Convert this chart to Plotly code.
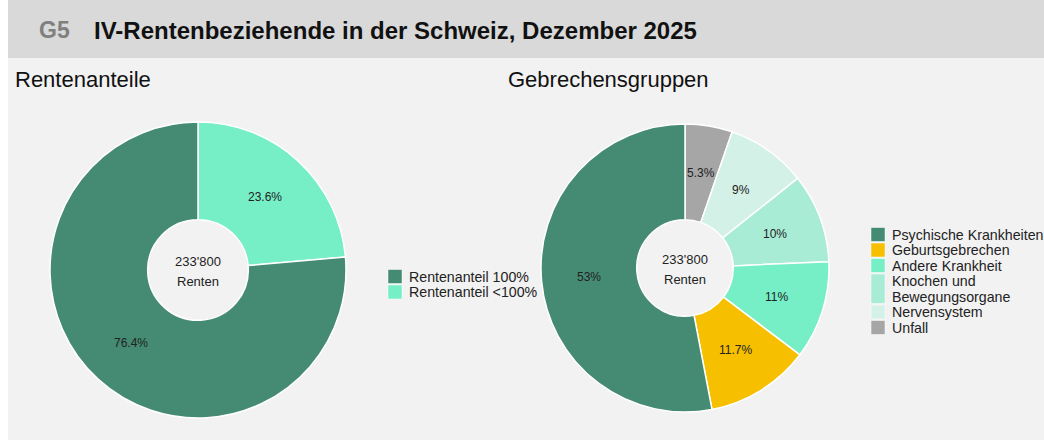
import math
import plotly.graph_objects as go

# Data
title_code = "G5"
title_text = "IV-Rentenbeziehende in der Schweiz, Dezember 2025"
left_title = "Rentenanteile"
right_title = "Gebrechensgruppen"
center_value = "233'800"
center_unit = "Renten"

rent_labels = ["Rentenanteil 100%", "Rentenanteil <100%"]
rent_values = [76.4, 23.6]
rent_colors = ["#458b73", "#76eec6"]

geb_labels = ["Psychische Krankheiten", "Geburtsgebrechen", "Andere Krankheit",
              "Knochen und<br>Bewegungsorgane", "Nervensystem", "Unfall"]
geb_values = [53, 11.7, 11, 10, 9, 5.3]
geb_colors = ["#458b73", "#f6bf00", "#76eec6", "#a9ecd6", "#d3f1e6", "#a6a6a6"]

W, H = 1044, 447
FONT = "Liberation Sans, Arial, sans-serif"

# pie geometry (pixels): centre x, centre y, radius, hole fraction
LEFT = dict(cx=198, cy=270, r=148, hole=0.34)
RIGHT = dict(cx=685, cy=268, r=144, hole=0.335)

fig = go.Figure()
shapes = [
    dict(type="rect", xref="paper", yref="paper", x0=8/W, x1=1, y0=1-58/H, y1=1,
         fillcolor="#d9d9d9", line=dict(width=0), layer="below"),
    dict(type="rect", xref="paper", yref="paper", x0=8/W, x1=1, y0=1-440/H, y1=1-58/H,
         fillcolor="#f2f2f2", line=dict(width=0), layer="below"),
]
annotations = [
    dict(x=37/W, y=1-30/H, xref="paper", yref="paper", xanchor="left", yanchor="middle",
         text="<b>" + title_code + "</b>", showarrow=False,
         font=dict(family=FONT, size=23, color="#808080")),
    dict(x=92/W, y=1-30/H, xref="paper", yref="paper", xanchor="left", yanchor="middle",
         text="<b>" + title_text + "</b>", showarrow=False,
         font=dict(family=FONT, size=24, color="#111")),
    dict(x=13/W, y=1-79/H, xref="paper", yref="paper", xanchor="left", yanchor="middle",
         text=left_title, showarrow=False, font=dict(family=FONT, size=22, color="#111")),
    dict(x=506/W, y=1-79/H, xref="paper", yref="paper", xanchor="left", yanchor="middle",
         text=right_title, showarrow=False, font=dict(family=FONT, size=22, color="#111")),
]


def add_donut(labels, values, colors, g):
    # slices drawn clockwise from 12 o'clock in reverse legend order
    labs, vals, cols = labels[::-1], values[::-1], colors[::-1]
    fig.add_trace(go.Pie(
        labels=labs, values=vals,
        marker=dict(colors=cols, line=dict(color="white", width=1.5)),
        hole=g["hole"], sort=False, direction="clockwise", rotation=0,
        textinfo="none",
        domain=dict(x=[(g["cx"]-g["r"])/W, (g["cx"]+g["r"])/W],
                    y=[1-(g["cy"]+g["r"])/H, 1-(g["cy"]-g["r"])/H]),
        showlegend=False, hoverinfo="label+percent",
    ))
    # percentage labels at the mid-angle, middle of the ring
    total = sum(vals)
    rm = g["r"] * (1 + g["hole"]) / 2
    cum = 0
    for v in vals:
        a = 2 * math.pi * (cum + v / 2) / total
        cum += v
        x = g["cx"] + rm * math.sin(a)
        y = g["cy"] - rm * math.cos(a)
        annotations.append(dict(x=x/W, y=1-y/H, xref="paper", yref="paper",
                                xanchor="center", yanchor="middle", showarrow=False,
                                text=f"{v:g}%", font=dict(family=FONT, size=12, color="#222")))
    for txt, dy in [(center_value, -9), (center_unit, 11)]:
        annotations.append(dict(x=g["cx"]/W, y=1-(g["cy"]+dy)/H, xref="paper", yref="paper",
                                xanchor="center", yanchor="middle", text=txt, showarrow=False,
                                font=dict(family=FONT, size=13, color="#222")))


add_donut(rent_labels, rent_values, rent_colors, LEFT)
add_donut(geb_labels, geb_values, geb_colors, RIGHT)


# manual legends (swatch + label), built from the data lists
def add_legend(labels, colors, x_sw, y_top, row_h=15.5, sw=14, fs=14.2):
    y = y_top
    for lab, col in zip(labels, colors):
        lines = lab.split("<br>")
        h = row_h * len(lines)
        shapes.append(dict(type="rect", xref="paper", yref="paper",
                           x0=x_sw/W, x1=(x_sw+sw)/W,
                           y0=1-(y+h-1)/H, y1=1-(y+0.5)/H,
                           fillcolor=col, line=dict(color="white", width=0.5)))
        for i, ln in enumerate(lines):
            annotations.append(dict(x=(x_sw+sw+5)/W, y=1-(y+row_h*i+row_h/2)/H,
                                    xref="paper", yref="paper",
                                    xanchor="left", yanchor="middle", align="left",
                                    text=ln, showarrow=False,
                                    font=dict(family=FONT, size=fs, color="#222")))
        y += h


add_legend(rent_labels, rent_colors, 388, 269)
add_legend(geb_labels, geb_colors, 871, 227)

fig.update_layout(
    width=W, height=H,
    margin=dict(l=0, r=0, t=0, b=0),
    paper_bgcolor="white", plot_bgcolor="white",
    font=dict(family=FONT, size=13, color="#222"),
    shapes=shapes, annotations=annotations,
    showlegend=False,
)

fig.write_html("out.html", config={"displayModeBar": False},
               post_script="document.body.style.margin='0';")
